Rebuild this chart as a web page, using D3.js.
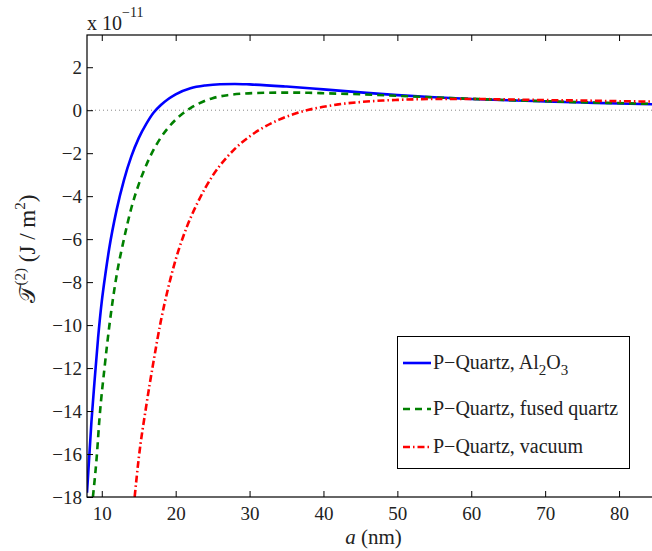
<!DOCTYPE html>
<html>
<head>
<meta charset="utf-8">
<script src="https://cdn.jsdelivr.net/npm/d3@7"></script>
<style>
  body { margin: 0; background: #fff; }
</style>
</head>
<body>
<div id="chart"></div>
<script>
// giá trị (đơn vị 1e-11 J/m^2)
const aAl2O3 = [8, 8.6, 9, 9.5, 10, 10.5, 11, 12, 13, 14, 15, 16, 17, 18, 19, 20, 22, 24, 26, 28, 30, 35, 40, 45, 50, 55, 60, 65, 70, 75, 80, 85];
const tAl2O3 = [-17.8, -14.5, -12.7, -10.6, -8.9, -7.6, -6.45, -4.65, -3.25, -2.15, -1.3, -0.65, -0.12, 0.24, 0.52, 0.74, 1.02, 1.15, 1.21, 1.22, 1.2, 1.1, 0.97, 0.83, 0.7, 0.6, 0.52, 0.46, 0.41, 0.36, 0.31, 0.27];

const aFused = [8.8, 9.3, 9.7, 10.4, 11, 12, 13, 14, 15, 16, 17, 18, 19, 20, 21, 22, 23, 24, 25, 27, 29, 32, 35, 38, 40, 45, 50, 55, 60, 65, 70, 75, 80, 85];
const tFused = [-18, -16.2, -14.3, -11.9, -10.1, -7.7, -6.0, -4.55, -3.45, -2.57, -1.85, -1.27, -0.81, -0.44, -0.14, 0.1, 0.29, 0.44, 0.56, 0.7, 0.77, 0.81, 0.82, 0.81, 0.79, 0.74, 0.67, 0.6, 0.53, 0.47, 0.42, 0.37, 0.33, 0.29];

const aVacuum = [14.45, 15, 16, 17, 18, 19, 20, 21, 22, 23, 24, 25, 26, 27, 28, 30, 32, 34, 36, 38, 40, 42, 45, 48, 50, 55, 60, 65, 70, 75, 80, 85];
const tVacuum = [-18, -16.2, -13.8, -11.7, -9.8, -8.25, -6.95, -5.9, -5.02, -4.28, -3.62, -3.05, -2.57, -2.16, -1.8, -1.22, -0.78, -0.44, -0.18, 0.02, 0.16, 0.27, 0.38, 0.45, 0.48, 0.52, 0.52, 0.5, 0.47, 0.45, 0.42, 0.4];

const xTicks = [10, 20, 30, 40, 50, 60, 70, 80];
const yTicks = [-18, -16, -14, -12, -10, -8, -6, -4, -2, 0, 2];

const series = [
  { name: "Al2O3", a: aAl2O3, t: tAl2O3, color: "#0000ff", dash: null },
  { name: "fused", a: aFused, t: tFused, color: "#008000", dash: "7,5" },
  { name: "vacuum", a: aVacuum, t: tVacuum, color: "#ff0000", dash: "7,3,1.5,3" }
];

(() => {
  const W = 652, H = 551;
  const pLeft = 87, pTop = 35, pRight = 656, pBottom = 497;
  const serif = "'Liberation Serif', 'Times New Roman', serif";

  const x = d3.scaleLinear().domain([8, 85]).range([pLeft, pRight]);
  const y = d3.scaleLinear().domain([-18, 3.5]).range([pBottom, pTop]);

  const svg = d3.select("#chart").append("svg")
    .attr("width", W).attr("height", H);

  svg.append("defs").append("clipPath").attr("id", "clip")
    .append("rect").attr("x", pLeft).attr("y", pTop)
    .attr("width", pRight - pLeft).attr("height", pBottom - pTop);

  // đường 0 chấm chấm
  svg.append("line")
    .attr("x1", pLeft).attr("x2", pRight)
    .attr("y1", y(0)).attr("y2", y(0))
    .attr("stroke", "#888").attr("stroke-width", 1)
    .attr("stroke-dasharray", "1,3");

  // các đường cong
  const line = d3.line()
    .x(d => x(d[0])).y(d => y(d[1]))
    .curve(d3.curveMonotoneX);

  const curves = svg.append("g").attr("clip-path", "url(#clip)");
  series.forEach(s => {
    curves.append("path")
      .datum(s.a.map((v, i) => [v, s.t[i]]))
      .attr("d", line)
      .attr("fill", "none")
      .attr("stroke", s.color)
      .attr("stroke-width", 2.6)
      .attr("stroke-dasharray", s.dash);
  });

  // trục, tick hướng vào trong
  const axisFont = g => g.selectAll("text")
    .style("font-family", serif).style("font-size", "19px").attr("fill", "#222");

  svg.append("g")
    .attr("transform", `translate(0,${pBottom})`)
    .call(d3.axisBottom(x).tickValues(xTicks).tickSizeInner(-6).tickSizeOuter(0).tickPadding(10))
    .call(axisFont)
    .call(g => g.select(".domain").remove());

  svg.append("g")
    .attr("transform", `translate(0,${pTop})`)
    .call(d3.axisTop(x).tickValues(xTicks).tickSizeInner(-6).tickSizeOuter(0).tickFormat(""))
    .call(g => g.select(".domain").remove());

  svg.append("g")
    .attr("transform", `translate(${pLeft},0)`)
    .call(d3.axisLeft(y).tickValues(yTicks).tickSizeInner(-6).tickSizeOuter(0).tickPadding(5))
    .call(axisFont)
    .call(g => g.select(".domain").remove());

  // khung
  svg.append("rect")
    .attr("x", pLeft).attr("y", pTop)
    .attr("width", pRight - pLeft).attr("height", pBottom - pTop)
    .attr("fill", "none").attr("stroke", "#000").attr("stroke-width", 1.2);

  // hệ số x 10^-11
  const expo = svg.append("text").attr("x", pLeft).attr("y", 30)
    .style("font-family", serif).style("font-size", "20px").attr("fill", "#222");
  expo.append("tspan").text("x 10");
  expo.append("tspan").attr("dy", -13).style("font-size", "14px").text("−11");

  // nhãn trục x
  const xl = svg.append("text")
    .attr("x", (pLeft + pRight) / 2 + 2).attr("y", 544)
    .attr("text-anchor", "middle")
    .style("font-family", serif).style("font-size", "21px").attr("fill", "#222");
  xl.append("tspan").style("font-style", "italic").text("a");
  xl.append("tspan").text(" (nm)");

  // nhãn trục y
  const yl = svg.append("text")
    .attr("transform", `translate(35,249) rotate(-90)`)
    .attr("text-anchor", "middle")
    .style("font-family", serif).style("font-size", "23px").attr("fill", "#222");
  yl.append("tspan").text("𝒯");
  yl.append("tspan").attr("dy", -10).style("font-size", "15px").text("(2)");
  yl.append("tspan").attr("dy", 10).text(" (J / m");
  yl.append("tspan").attr("dy", -10).style("font-size", "15px").text("2");
  yl.append("tspan").attr("dy", 10).text(")");

  // chú thích
  const legend = svg.append("g");
  legend.append("rect")
    .attr("x", 397.5).attr("y", 336.5).attr("width", 232).attr("height", 132)
    .attr("fill", "#fff").attr("stroke", "#000").attr("stroke-width", 1);

  const legendRows = [
    { s: series[0], y: 363, parts: [["P−Quartz, Al", 0, 20], ["2", 6, 15], ["O", -6, 20], ["3", 6, 15]] },
    { s: series[1], y: 409, parts: [["P−Quartz, fused quartz", 0, 20]] },
    { s: series[2], y: 447, parts: [["P−Quartz, vacuum", 0, 20]] }
  ];
  legendRows.forEach(r => {
    legend.append("line")
      .attr("x1", 403).attr("x2", 431)
      .attr("y1", r.y).attr("y2", r.y)
      .attr("stroke", r.s.color).attr("stroke-width", 2.6)
      .attr("stroke-dasharray", r.s.dash);
    const t = legend.append("text").attr("x", 433).attr("y", r.y + 6)
      .style("font-family", serif).style("font-size", "20px").attr("fill", "#222");
    r.parts.forEach(p => t.append("tspan").attr("dy", p[1]).style("font-size", p[2] + "px").text(p[0]));
  });
})();
</script>
</body>
</html>
